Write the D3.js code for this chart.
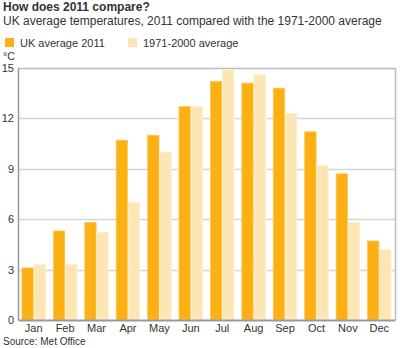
<!DOCTYPE html>
<html>
<head>
<meta charset="utf-8">
<script src="https://cdn.jsdelivr.net/npm/d3@7"></script>
<style>
  body { margin: 0; background: #fff; }
  svg { display: block; font-family: "Liberation Sans", Arial, sans-serif; }
</style>
</head>
<body>
<svg id="chart" width="400" height="348"></svg>
<script>
// data
var months = ["Jan", "Feb", "Mar", "Apr", "May", "Jun", "Jul", "Aug", "Sep", "Oct", "Nov", "Dec"];
var uk2011 = [3.1, 5.3, 5.8, 10.7, 11.0, 12.7, 14.2, 14.1, 13.8, 11.2, 8.7, 4.7];
var avg7100 = [3.3, 3.3, 5.2, 7.0, 10.0, 12.7, 14.9, 14.6, 12.3, 9.2, 5.8, 4.2];
var seriesNames = ["UK average 2011", "1971-2000 average"];
var yTicks = [0, 3, 6, 9, 12, 15];

var colors = ["#fdb013", "#fde6b6"],
    strokes = ["#fec957", "#fff0d2"];

var svg = d3.select("#chart"),
    plotLeft = 18,
    plotRight = 395,
    plotTop = 68,
    plotBottom = 320;

var x = d3.scaleBand()
    .domain(months)
    .range([plotLeft, plotRight])
    .paddingInner(0.25)
    .paddingOuter(0.125);

var x1 = d3.scaleBand()
    .domain([0, 1])
    .range([0, x.bandwidth()])
    .paddingInner(0.06);

var y = d3.scaleLinear()
    .domain([0, 15])
    .range([plotBottom, plotTop]);

// titles
svg.append("text")
    .attr("x", 3).attr("y", 11)
    .style("font-size", "12px").style("font-weight", "bold").style("fill", "#333")
    .text("How does 2011 compare?");
svg.append("text")
    .attr("x", 3).attr("y", 25)
    .style("font-size", "12px").style("fill", "#333")
    .text("UK average temperatures, 2011 compared with the 1971-2000 average");

// legend
var legendX = [5, 128];
seriesNames.forEach(function(name, i) {
    svg.append("rect")
        .attr("x", legendX[i]).attr("y", 38)
        .attr("width", 9).attr("height", 9)
        .style("fill", colors[i]);
    svg.append("text")
        .attr("x", legendX[i] + 15).attr("y", 46.5)
        .style("font-size", "11px").style("fill", "#333")
        .text(name);
});

svg.append("text")
    .attr("x", 3).attr("y", 60)
    .style("font-size", "10.5px").style("fill", "#333")
    .text("°C");

// grid
svg.selectAll("line.grid")
    .data(yTicks.filter(function(d) { return d > 0; }))
    .enter().append("line")
    .attr("class", "grid")
    .attr("x1", plotLeft).attr("x2", plotRight)
    .attr("y1", function(d) { return Math.round(y(d)) + 0.5; })
    .attr("y2", function(d) { return Math.round(y(d)) + 0.5; })
    .style("stroke", function(d) { return d == 15 ? "#bbb" : "#d6d6d6"; })
    .style("stroke-width", 1.5);

// right border
svg.append("line")
    .attr("x1", plotRight + 0.5).attr("x2", plotRight + 0.5)
    .attr("y1", y(15)).attr("y2", plotBottom)
    .style("stroke", "#bbb").style("stroke-width", 1.5);

// y axis
var yAxis = d3.axisLeft(y).tickValues(yTicks).tickSize(0).tickPadding(4);
var gy = svg.append("g")
    .attr("transform", "translate(" + plotLeft + ",0)")
    .call(yAxis);
gy.select(".domain").style("stroke", "#999").style("stroke-width", 1.5);
gy.selectAll("text").style("font-size", "11px").style("fill", "#333")
    .style("font-family", "Liberation Sans, Arial, sans-serif");

// bars
var data = months.map(function(m, i) { return { month: m, values: [uk2011[i], avg7100[i]] }; });

var groups = svg.selectAll("g.month")
    .data(data)
    .enter().append("g")
    .attr("class", "month")
    .attr("transform", function(d) { return "translate(" + x(d.month) + ",0)"; });

groups.selectAll("rect")
    .data(function(d) { return d.values; })
    .enter().append("rect")
    .attr("x", function(d, i) { return x1(i); })
    .attr("y", function(d) { return y(d); })
    .attr("width", x1.bandwidth())
    .attr("height", function(d) { return plotBottom - y(d); })
    .style("fill", function(d, i) { return colors[i]; })
    .style("stroke", function(d, i) { return strokes[i]; })
    .style("stroke-width", 0.8);

// x axis
var xAxis = d3.axisBottom(x).tickSize(0).tickPadding(4);
var gx = svg.append("g")
    .attr("transform", "translate(0," + plotBottom + ")")
    .call(xAxis);
gx.select(".domain").style("stroke", "#999").style("stroke-width", 2);
gx.selectAll("text").style("font-size", "11px").style("fill", "#333")
    .style("font-family", "Liberation Sans, Arial, sans-serif");

svg.append("text")
    .attr("x", 3).attr("y", 345)
    .style("font-size", "10px").style("fill", "#333")
    .text("Source: Met Office");
</script>
</body>
</html>
